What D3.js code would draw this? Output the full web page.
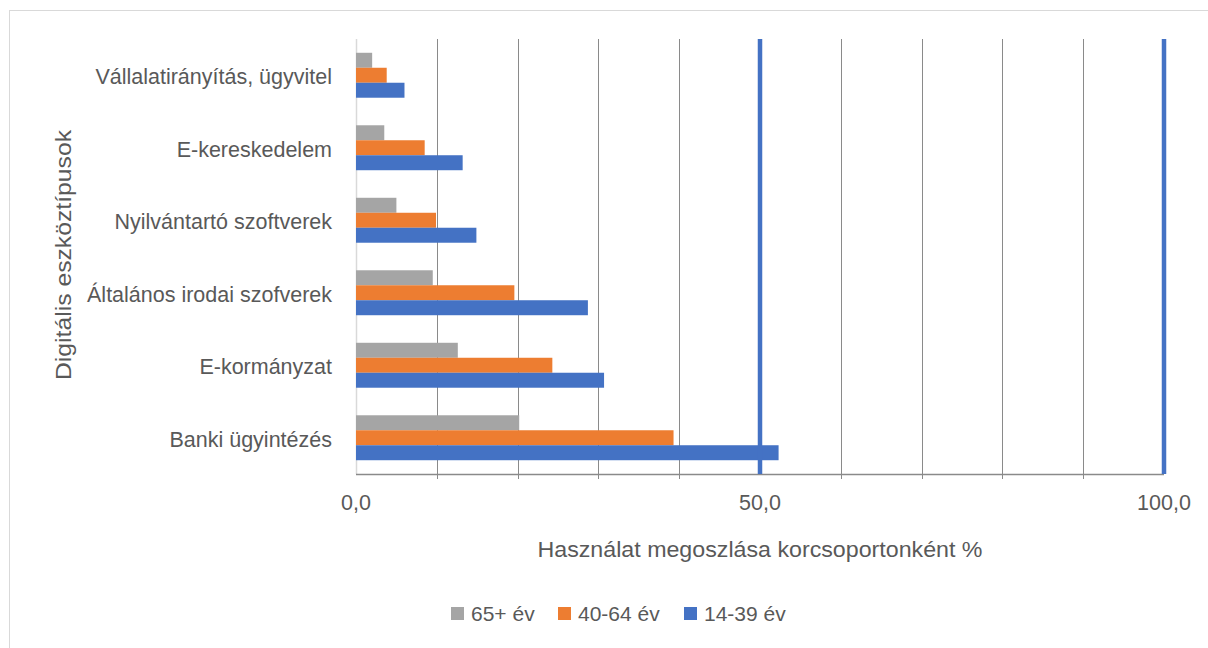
<!DOCTYPE html>
<html>
<head>
    <script src="https://d3js.org/d3.v7.min.js"></script>
    <style>
        body { margin: 0; background: #fff; }
        text { font-family: "Liberation Sans", Arial, sans-serif; fill: #595959; }
    </style>
</head>
<body>
    <svg id="chart" width="1208" height="648"></svg>
    <script>
        // categories top to bottom
        const categories = ["Vállalatirányítás, ügyvitel", "E-kereskedelem", "Nyilvántartó szoftverek",
            "Általános irodai szofverek", "E-kormányzat", "Banki ügyintézés"];
        const seriesNames = ["65+ év", "40-64 év", "14-39 év"];
        const senior = [2.0, 3.5, 5.0, 9.5, 12.6, 20.2];
        const middle = [3.8, 8.5, 9.9, 19.6, 24.3, 39.3];
        const young = [6.0, 13.2, 14.9, 28.7, 30.7, 52.3];
        const gridValues = [10, 20, 30, 40, 60, 70, 80, 90];
        const refLines = [50, 100];
        const tickValues = [0, 50, 100];
        const colors = ["#a5a5a5", "#ed7d31", "#4472c4"];

        const svg = d3.select("#chart");
        const plot = { left: 356, right: 1164, top: 39, bottom: 474 };

        // outer frame (runs off the right / bottom edge)
        svg.append("rect")
            .attr("x", 9.5).attr("y", 10.5)
            .attr("width", 1240).attr("height", 700)
            .attr("fill", "none").attr("stroke", "#d9d9d9").attr("stroke-width", 1);

        const x = d3.scaleLinear().domain([0, 100]).range([plot.left, plot.right]);
        const y = d3.scaleBand().domain(categories).range([plot.top, plot.bottom])
            .paddingInner(0.38).paddingOuter(0.19);
        const ySub = d3.scaleBand().domain(seriesNames).range([0, y.bandwidth()]);

        // gridlines
        svg.append("g").selectAll("line")
            .data(gridValues)
            .join("line")
            .attr("x1", d => Math.round(x(d)) + 0.5).attr("x2", d => Math.round(x(d)) + 0.5)
            .attr("y1", plot.top).attr("y2", plot.bottom + 5)
            .attr("stroke", "#8a8a8a").attr("stroke-width", 1);

        // left axis line
        svg.append("line")
            .attr("x1", plot.left + 0.5).attr("x2", plot.left + 0.5)
            .attr("y1", plot.top).attr("y2", plot.bottom)
            .attr("stroke", "#d9d9d9").attr("stroke-width", 1.5);

        // bars
        const data = categories.map((c, i) => ({ cat: c, values: [senior[i], middle[i], young[i]] }));
        const groups = svg.append("g").selectAll("g")
            .data(data)
            .join("g")
            .attr("transform", d => `translate(0,${y(d.cat)})`);
        groups.selectAll("rect")
            .data(d => d.values.map((v, j) => ({ name: seriesNames[j], value: v, color: colors[j] })))
            .join("rect")
            .attr("x", x(0))
            .attr("y", d => ySub(d.name))
            .attr("width", d => x(d.value) - x(0))
            .attr("height", ySub.bandwidth())
            .attr("fill", d => d.color);

        // bottom axis line
        svg.append("line")
            .attr("x1", plot.left).attr("x2", plot.right)
            .attr("y1", plot.bottom + 0.5).attr("y2", plot.bottom + 0.5)
            .attr("stroke", "#8a8a8a").attr("stroke-width", 1.5);

        // blue reference lines
        svg.append("g").selectAll("line")
            .data(refLines)
            .join("line")
            .attr("x1", d => x(d)).attr("x2", d => x(d))
            .attr("y1", plot.top).attr("y2", plot.bottom)
            .attr("stroke", "#4472c4").attr("stroke-width", 4.5);

        // tick labels
        const fmt = d => d3.format(".1f")(d).replace(".", ",");
        svg.append("g").selectAll("text")
            .data(tickValues)
            .join("text")
            .attr("x", d => x(d)).attr("y", 510)
            .attr("text-anchor", "middle")
            .style("font-size", "21.5px")
            .text(fmt);

        // category labels
        svg.append("g").selectAll("text")
            .data(categories)
            .join("text")
            .attr("x", 332)
            .attr("y", d => y(d) + y.bandwidth() / 2 + 9)
            .attr("text-anchor", "end")
            .style("font-size", "21.5px")
            .text(d => d);

        // axis titles
        svg.append("text")
            .attr("x", 760).attr("y", 557)
            .attr("text-anchor", "middle")
            .style("font-size", "22px")
            .attr("textLength", 445)
            .attr("lengthAdjust", "spacingAndGlyphs")
            .text("Használat megoszlása korcsoportonként %");

        svg.append("text")
            .attr("transform", "translate(71,255) rotate(-90)")
            .attr("text-anchor", "middle")
            .style("font-size", "22px")
            .attr("textLength", 250)
            .attr("lengthAdjust", "spacingAndGlyphs")
            .text("Digitális eszköztípusok");

        // legend
        const legendX = [451, 558, 684];
        const legend = svg.append("g").selectAll("g")
            .data(seriesNames)
            .join("g")
            .attr("transform", (d, i) => `translate(${legendX[i]},607)`);
        legend.append("rect")
            .attr("width", 13).attr("height", 13)
            .attr("fill", (d, i) => colors[i]);
        legend.append("text")
            .attr("x", 20).attr("y", 14)
            .style("font-size", "21px")
            .text(d => d);
    </script>
</body>
</html>
